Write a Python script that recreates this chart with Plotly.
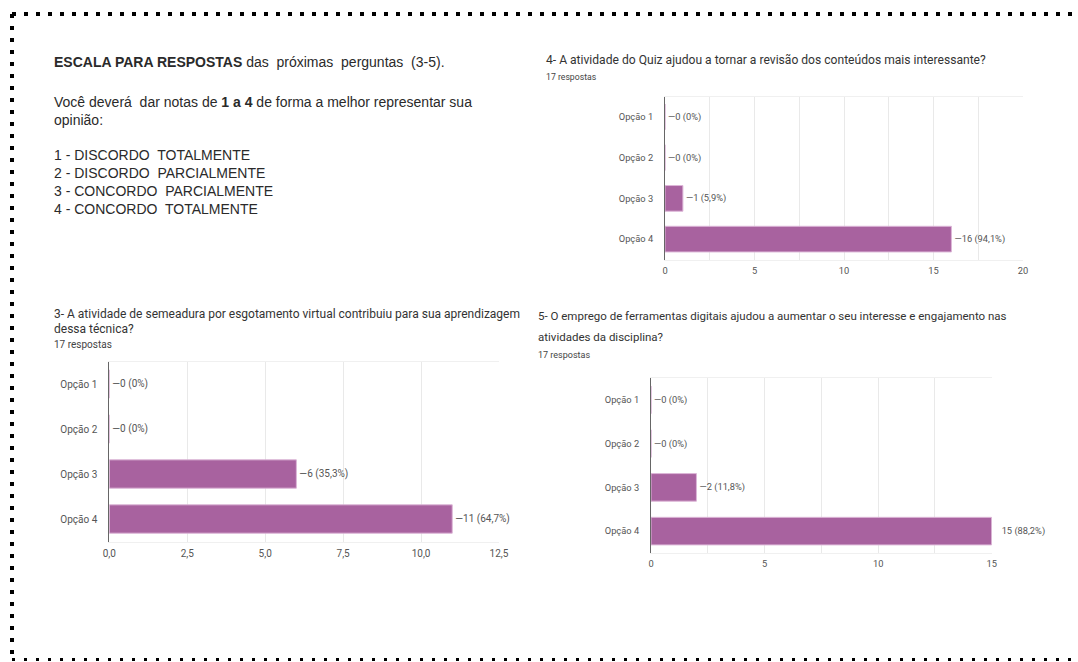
import plotly.graph_objects as go

# ---------------- data ----------------
categories = ["Opção 1", "Opção 2", "Opção 3", "Opção 4"]

q3_counts = [0, 0, 6, 11]
q3_pcts = ["0%", "0%", "35,3%", "64,7%"]
q3_leader = [True, True, True, True]

q4_counts = [0, 0, 1, 16]
q4_pcts = ["0%", "0%", "5,9%", "94,1%"]
q4_leader = [True, True, True, True]

q5_counts = [0, 0, 2, 15]
q5_pcts = ["0%", "0%", "11,8%", "88,2%"]
q5_leader = [True, True, True, False]

q3_title = ["3- A atividade de semeadura por esgotamento virtual contribuiu para sua aprendizagem",
            "dessa técnica?"]
q4_title = ["4- A atividade do Quiz ajudou a tornar a revisão dos conteúdos mais interessante?"]
q5_title = ["5- O emprego de ferramentas digitais ajudou a aumentar o seu interesse e engajamento nas",
            "atividades da disciplina?"]
responses_label = "17 respostas"

q3_ticks = [0, 2.5, 5, 7.5, 10, 12.5]
q4_ticks = [0, 5, 10, 15, 20]
q5_ticks = [0, 5, 10, 15]

intro_lines = [
    "<b>ESCALA PARA RESPOSTAS</b> das\u00a0 próximas\u00a0 perguntas\u00a0 (3-5).",
    "Você deverá\u00a0 dar notas de <b>1 a 4</b> de forma a melhor representar sua",
    "opinião:",
    "1 - DISCORDO\u00a0 TOTALMENTE",
    "2 - DISCORDO\u00a0 PARCIALMENTE",
    "3 - CONCORDO\u00a0 PARCIALMENTE",
    "4 - CONCORDO\u00a0 TOTALMENTE",
]

# ---------------- layout helpers ----------------
W, H = 1078, 662
def px_x(v):
    return v / W
def px_y(v):
    return 1 - v / H

BAR_COLOR = "#a8629f"
BAR_EDGE = "#dcb6d7"
GRID = "#e9e9e9"
TXT = "#555555"

def make_labels(counts, pcts, leader):
    out = []
    for c, p, l in zip(counts, pcts, leader):
        s = f"{c} ({p})"
        out.append(("—" + s) if l else ("\u00a0\u00a0\u00a0" + s))
    return out

fig = go.Figure()

charts = [
    (q3_counts, q3_pcts, q3_leader, "", (109.3, 499), (361.5, 541.5), [0, 12.5], q3_ticks, None, ".1f", 10),
    (q4_counts, q4_pcts, q4_leader, "2", (665, 1023), (96.5, 259.5), [0, 20], q4_ticks, 2.5, "d", 9.3),
    (q5_counts, q5_pcts, q5_leader, "3", (651, 991.7), (378, 553), [0, 15], q5_ticks, 2.5, "d", 9.3),
]

for counts, pcts, leader, sfx, xd, yd, rng, ticks, minor, fmt, fs in charts:
    fig.add_trace(go.Bar(
        x=counts, y=categories, orientation="h",
        xaxis="x" + sfx, yaxis="y" + sfx,
        marker=dict(color=BAR_COLOR, line=dict(color=BAR_EDGE, width=1)),
        text=make_labels(counts, pcts, leader),
        textposition="outside", cliponaxis=False, constraintext="none",
        textfont=dict(family="Roboto", size=fs, color=TXT),
        hoverinfo="skip", width=0.63, showlegend=False,
    ))
    xa = dict(
        domain=[px_x(xd[0]), px_x(xd[1])], range=rng,
        tickvals=ticks, tickformat=fmt,
        showgrid=True, gridcolor=GRID, gridwidth=1,
        zeroline=False, showline=True, linecolor="#f0f0f0", mirror=True,
        ticks="outside", ticklen=2, tickcolor="rgba(0,0,0,0)",
        tickfont=dict(family="Roboto", size=fs, color=TXT),
        anchor="y" + sfx, fixedrange=True, automargin=False,
    )
    if minor:
        xa["minor"] = dict(dtick=minor, tick0=0, showgrid=True, gridcolor=GRID, gridwidth=1)
    ya = dict(
        domain=[px_y(yd[1]), px_y(yd[0])],
        autorange="reversed", showgrid=False, zeroline=False,
        showline=True, linecolor="#666666", linewidth=1,
        ticks="outside", ticklen=9, tickcolor="rgba(0,0,0,0)",
        tickfont=dict(family="Roboto", size=fs, color=TXT),
        anchor="x" + sfx, fixedrange=True, automargin=False,
    )
    fig.layout["xaxis" + sfx] = xa
    fig.layout["yaxis" + sfx] = ya

annotations = []
def add_text(txt, x, y, size, family="Roboto", color="#333333"):
    annotations.append(dict(
        text=txt, x=px_x(x), y=px_y(y), xref="paper", yref="paper",
        xanchor="left", yanchor="middle", showarrow=False,
        font=dict(family=family, size=size, color=color), align="left",
    ))

intro_y = [62, 102, 120, 155, 173, 191, 209]
for line, yy in zip(intro_lines, intro_y):
    add_text(line, 52, yy, 14, family="Liberation Sans", color="#2a2a2a")

for i, line in enumerate(q3_title):
    add_text(line, 52, 314 + 15 * i, 12)
add_text(responses_label, 52, 344, 10, color="#444444")

for i, line in enumerate(q4_title):
    add_text(line, 544, 60, 12.1)
add_text(responses_label, 544, 77, 8.7, color="#444444")

for i, line in enumerate(q5_title):
    add_text(line, 536, 316 + 21.5 * i, 11.5)
add_text(responses_label, 536, 355, 9, color="#444444")

shapes = [
    dict(type="line", xref="paper", yref="paper", x0=px_x(12), x1=px_x(1074), y0=px_y(14), y1=px_y(14),
         line=dict(color="black", width=4, dash="4px,8px")),
    dict(type="line", xref="paper", yref="paper", x0=px_x(12), x1=px_x(12), y0=px_y(14), y1=px_y(662),
         line=dict(color="black", width=4, dash="4px,8px")),
    dict(type="line", xref="paper", yref="paper", x0=px_x(12), x1=px_x(1078), y0=px_y(659.5), y1=px_y(659.5),
         line=dict(color="black", width=3, dash="3px,9px")),
]

fig.update_layout(
    width=W, height=H, autosize=False,
    margin=dict(l=0, r=0, t=0, b=0, pad=0),
    paper_bgcolor="white", plot_bgcolor="white",
    separators=",.",
    annotations=annotations, shapes=shapes,
    bargap=0.37,
)

fig.write_html("out.html", config={"displayModeBar": False},
               post_script="document.body.style.margin='0';document.body.style.padding='0';")
